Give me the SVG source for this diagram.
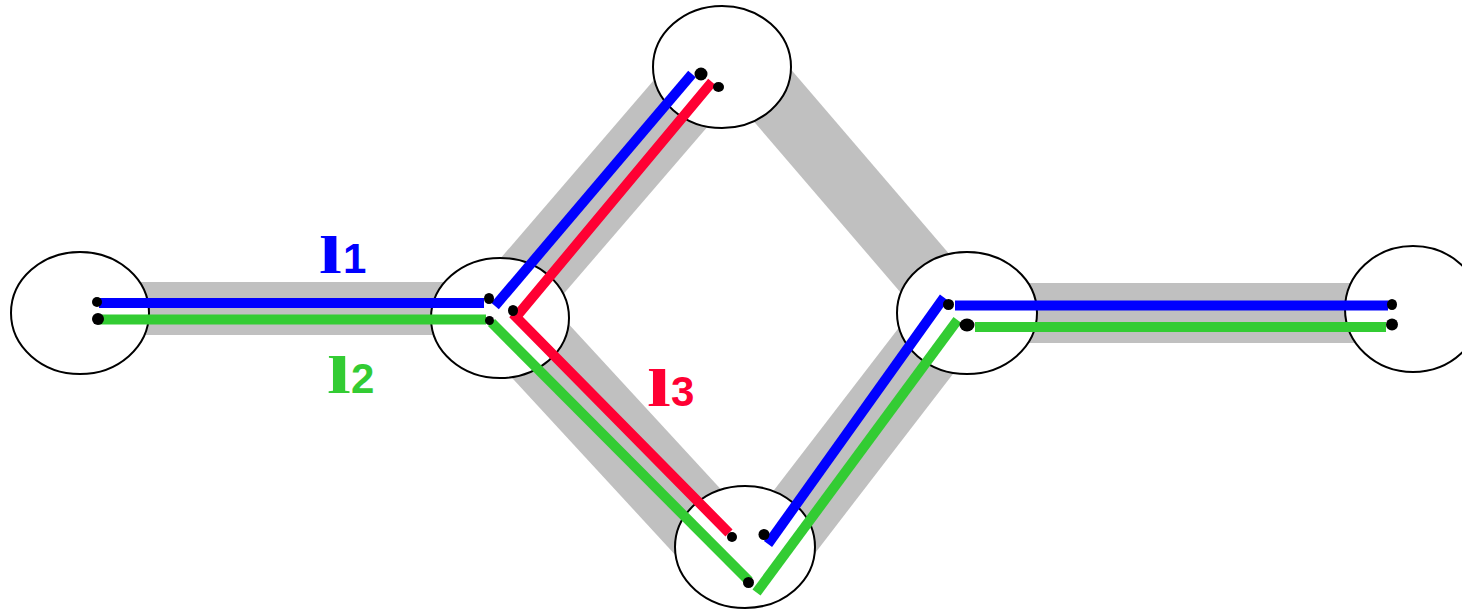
<svg xmlns="http://www.w3.org/2000/svg" width="1462" height="609" viewBox="0 0 1462 609">
<style>
.band{stroke:#c0c0c0;fill:none;stroke-linecap:butt}
.node{fill:#fff;stroke:#000;stroke-width:2}
.ln{fill:none;stroke-width:10;stroke-linecap:butt;stroke-linejoin:miter}
.blue{stroke:#0000ff}
.green{stroke:#33cc33}
.red{stroke:#ff0033}
.dot{fill:#000}
.ell{font-family:"Liberation Serif","Times New Roman",serif;font-weight:bold;font-size:53px}
.sub{font-family:"Liberation Sans",Arial,sans-serif;font-weight:bold;font-size:42px}
</style>
<rect width="1462" height="609" fill="#fff"/>
<g id="bands">
<line class="band" x1="80" y1="308.5" x2="500" y2="308.5" stroke-width="53"/>
<line class="band" x1="967" y1="313" x2="1413" y2="313" stroke-width="60"/>
<line class="band" x1="496" y1="318" x2="712" y2="67" stroke-width="71"/>
<line class="band" x1="748" y1="67" x2="959" y2="313" stroke-width="62"/>
<line class="band" x1="510" y1="318" x2="721" y2="547" stroke-width="78"/>
<line class="band" x1="775" y1="547" x2="955" y2="313" stroke-width="71"/>
</g>
<g id="nodeA"><ellipse class="node" cx="80" cy="313" rx="69" ry="61"/></g>
<g id="nodeB"><ellipse class="node" cx="500" cy="318" rx="69" ry="60"/></g>
<g id="nodeC"><ellipse class="node" cx="722" cy="67" rx="69" ry="61"/></g>
<g id="nodeD"><ellipse class="node" cx="745" cy="547" rx="70" ry="61"/></g>
<g id="nodeE"><ellipse class="node" cx="967" cy="313" rx="70" ry="61"/></g>
<g id="nodeF"><ellipse class="node" cx="1413" cy="309" rx="68" ry="63"/></g>
<g id="connectors">
<line class="ln blue" x1="99" y1="303" x2="484" y2="303"/>
<line class="ln green" x1="99" y1="319.5" x2="486" y2="319.5"/>
<line class="ln blue" x1="495" y1="306" x2="692" y2="74"/>
<polyline class="ln red" points="712,82 516,317 729,533"/>
<line class="ln green" x1="491.5" y1="322.5" x2="749" y2="581"/>
<line class="ln blue" x1="768" y1="544" x2="944" y2="297.5"/>
<line class="ln green" x1="756.5" y1="592.5" x2="957.5" y2="320"/>
<line class="ln blue" x1="955" y1="305.5" x2="1388" y2="305.5"/>
<line class="ln green" x1="975" y1="327" x2="1386" y2="327"/>
</g>
<g id="dots">
<ellipse class="dot" cx="97" cy="302" rx="5" ry="5"/>
<ellipse class="dot" cx="98" cy="319" rx="6" ry="6"/>
<ellipse class="dot" cx="489" cy="298.5" rx="5" ry="5.5"/>
<ellipse class="dot" cx="489.5" cy="320.5" rx="4.5" ry="4.5"/>
<ellipse class="dot" cx="513" cy="310.5" rx="5" ry="5.5"/>
<ellipse class="dot" cx="701" cy="74" rx="6.5" ry="6.5"/>
<ellipse class="dot" cx="718.5" cy="87" rx="5.5" ry="5"/>
<ellipse class="dot" cx="732" cy="537" rx="5" ry="5"/>
<ellipse class="dot" cx="764" cy="534.5" rx="5.5" ry="5.5"/>
<ellipse class="dot" cx="748.5" cy="582.5" rx="5.5" ry="5.5"/>
<ellipse class="dot" cx="948.5" cy="304.5" rx="5.5" ry="5.5"/>
<ellipse class="dot" cx="967" cy="325" rx="7.5" ry="6.5"/>
<ellipse class="dot" cx="1392" cy="304.5" rx="5" ry="5.5"/>
<ellipse class="dot" cx="1392" cy="324.5" rx="6" ry="6"/>
</g>
<g id="labels">
<text x="319" y="273" fill="#0000ff"><tspan class="ell" textLength="23" lengthAdjust="spacingAndGlyphs">l</tspan><tspan class="sub" x="343">1</tspan></text>
<text x="327" y="393" fill="#33cc33"><tspan class="ell" textLength="24" lengthAdjust="spacingAndGlyphs">l</tspan><tspan class="sub" x="351">2</tspan></text>
<text x="647" y="406" fill="#ff0033"><tspan class="ell" textLength="24" lengthAdjust="spacingAndGlyphs">l</tspan><tspan class="sub" x="671">3</tspan></text>
</g>
</svg>
